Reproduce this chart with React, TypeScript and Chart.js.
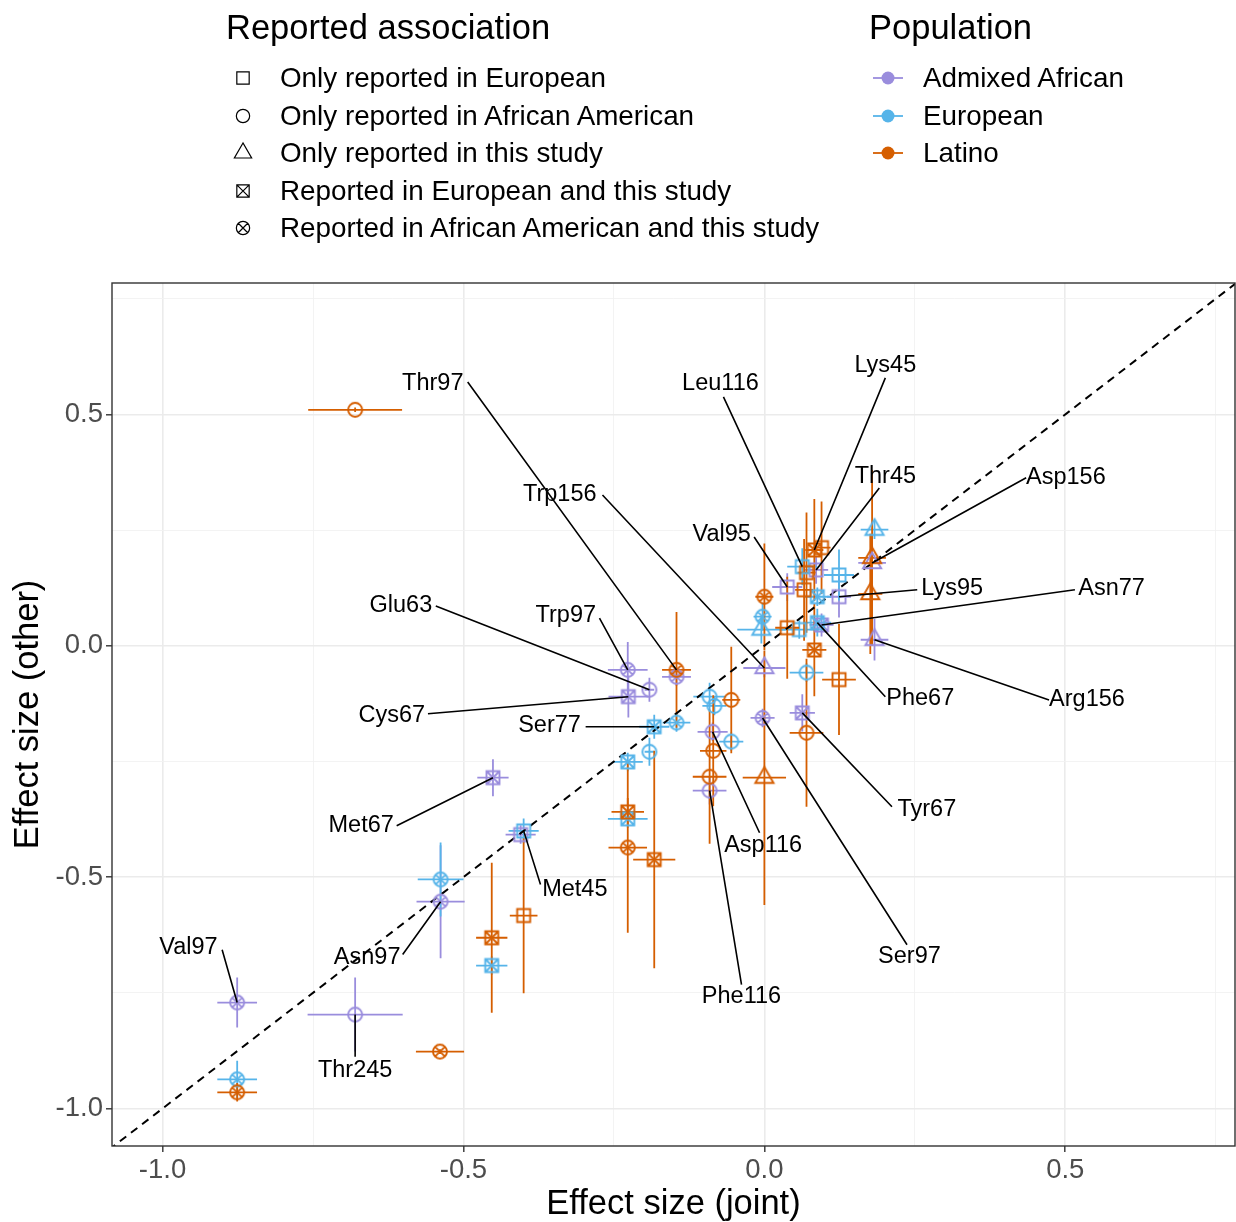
import { useEffect, useRef } from "react";
import { Chart, registerables } from "chart.js";

Chart.register(...registerables);

const FONT = '"Liberation Sans", Arial, Helvetica, sans-serif';

// ---- legend / categories ----
const populations = ["Admixed African", "European", "Latino"];
const populationColors = ["#9a8ddd", "#56b4e9", "#d55e00"];
const shapeKeys = ["sq", "ci", "tr", "sqx", "cix"];
const shapeLabels = [
  "Only reported in European",
  "Only reported in African American",
  "Only reported in this study",
  "Reported in European and this study",
  "Reported in African American and this study",
];

// ---- points (population index 0=Admixed African, 1=European, 2=Latino) ----
const pointPop = [
  2, 2, 0, 0, 0, 0, 1, 2, 1, 1, 1, 2, 1, 2, 0, 1, 0, 2, 1, 0, 2, 1, 0, 0, 2, 1, 2,
  1, 2, 0, 2, 0, 1, 0, 1, 1, 0, 2, 1, 2, 1, 2, 2, 1, 1, 0, 1, 0, 2, 2, 2, 2, 0,
  1, 1, 2, 0, 1, 2, 2, 0, 0, 2, 0, 2,
];
const pointShape = [
  "ci", "cix", "cix", "cix", "sqx", "ci", "sqx", "sqx", "cix", "sqx", "ci", "sqx", "sqx", "cix", "sqx", "sq", "sq", "sq", "cix", "cix", "sqx", "sqx", "cix", "ci", "cix", "cix", "cix",
  "tr", "tr", "tr", "tr", "tr", "sq", "sq", "sqx", "sqx", "sqx", "sq", "sq", "sqx", "ci", "sq", "cix", "cix", "tr", "tr", "sq", "sq", "sq", "sq", "sqx", "sq", "sq",
  "ci", "ci", "ci", "ci", "ci", "ci", "ci", "ci", "cix", "tr", "sqx", "ci",
];
const pointX = [
  -0.68, -0.146, -0.146, -0.227, -0.226, -0.191, -0.183, -0.183, -0.146, -0.227, -0.191, -0.227, -0.227, -0.227, -0.451, -0.4, -0.405, -0.4, -0.538, -0.538, -0.453, -0.453, -0.876, -0.68, -0.539, -0.876, -0.876,
  0.183, 0.179, 0.179, 0.176, 0.183, 0.124, 0.124, 0.088, 0.088, 0.095, 0.038, 0.058, 0.083, 0.07, 0.124, 0.0, -0.003, -0.005, 0.0, 0.063, 0.038, 0.07, 0.066, 0.083, 0.095, 0.086,
  -0.091, -0.083, -0.055, -0.086, -0.055, -0.085, -0.091, -0.091, -0.003, 0.0, 0.063, 0.07,
];
const pointY = [
  0.51, -0.052, -0.067, -0.052, -0.11, -0.095, -0.175, -0.462, -0.166, -0.251, -0.229, -0.359, -0.374, -0.436, -0.285, -0.4, -0.408, -0.583, -0.505, -0.553, -0.631, -0.691, -0.771, -0.797, -0.877, -0.937, -0.965,
  0.251, 0.19, 0.179, 0.112, 0.013, 0.153, 0.106, 0.106, 0.05, 0.045, 0.039, 0.035, -0.009, -0.058, -0.073, 0.106, 0.063, 0.035, -0.048, 0.171, 0.127, 0.158, 0.121, 0.207, 0.212, 0.164,
  -0.11, -0.13, -0.117, -0.186, -0.207, -0.227, -0.283, -0.313, -0.156, -0.285, -0.145, -0.188,
];
const pointXErr = [
  0.078, 0.024, 0.024, 0.033, 0.033, 0.008, 0.025, 0.035, 0.023, 0.025, 0.008, 0.027, 0.033, 0.032, 0.026, 0.025, 0.025, 0.023, 0.038, 0.04, 0.026, 0.026, 0.033, 0.079, 0.04, 0.033, 0.033,
  0.023, 0.023, 0.023, 0.02, 0.023, 0.025, 0.02, 0.023, 0.023, 0.02, 0.02, 0.033, 0.02, 0.028, 0.028, 0.015, 0.015, 0.04, 0.035, 0.025, 0.025, 0.015, 0.015, 0.015, 0.015, 0.02,
  0.027, 0.02, 0.015, 0.025, 0.02, 0.022, 0.028, 0.028, 0.02, 0.036, 0.021, 0.028,
];
const pointYErr = [
  0.005, 0.125, 0.02, 0.06, 0.045, 0.026, 0.026, 0.235, 0.02, 0.02, 0.03, 0.03, 0.02, 0.184, 0.04, 0.027, 0.02, 0.168, 0.08, 0.122, 0.162, 0.02, 0.054, 0.08, 0.005, 0.04, 0.02,
  0.02, 0.19, 0.04, 0.13, 0.045, 0.055, 0.045, 0.02, 0.03, 0.025, 0.11, 0.02, 0.1, 0.02, 0.12, 0.115, 0.03, 0.03, 0.02, 0.04, 0.03, 0.13, 0.11, 0.11, 0.1, 0.03,
  0.03, 0.02, 0.115, 0.02, 0.02, 0.12, 0.145, 0.03, 0.02, 0.275, 0.04, 0.16,
];

// ---- repelled text labels: text, target point, text anchor, segment start (data units) ----
const labelText = [
  "Thr97", "Leu116", "Lys45", "Thr45", "Asp156", "Val95", "Lys95", "Asn77", "Trp156", "Glu63", "Trp97", "Phe67",
  "Arg156", "Cys67", "Ser77", "Tyr67", "Met67", "Asp116", "Met45", "Val97", "Asn97", "Ser97", "Phe116", "Thr245",
];
const labelPoint = [1, 46, 50, 52, 29, 47, 33, 36, 45, 5, 3, 35, 31, 4, 6, 63, 14, 56, 15, 22, 19, 61, 60, 23];
const labelX = [
  -0.551, -0.073, 0.201, 0.201, 0.501, -0.071, 0.312, 0.577, -0.34, -0.604, -0.33, 0.259,
  0.536, -0.619, -0.357, 0.27, -0.67, -0.002, -0.315, -0.957, -0.66, 0.241, -0.038, -0.68,
];
const labelY = [
  0.566, 0.566, 0.605, 0.365, 0.363, 0.24, 0.123, 0.123, 0.326, 0.086, 0.065, -0.114,
  -0.117, -0.151, -0.173, -0.354, -0.389, -0.432, -0.527, -0.652, -0.674, -0.672, -0.758, -0.918,
];
const segStartX = [
  -0.493, -0.068, 0.201, 0.191, 0.435, -0.017, 0.254, 0.516, -0.269, -0.546, -0.274, 0.201,
  0.473, -0.559, -0.297, 0.212, -0.611, -0.008, -0.372, -0.901, -0.601, 0.237, -0.038, -0.68,
];
const segStartY = [
  0.57, 0.538, 0.579, 0.341, 0.363, 0.235, 0.121, 0.121, 0.326, 0.086, 0.06, -0.11,
  -0.117, -0.147, -0.175, -0.348, -0.389, -0.404, -0.516, -0.657, -0.667, -0.646, -0.732, -0.888,
];

// ---- axes ----
const xLimits = [-1.084, 0.782];
const yLimits = [-1.081, 0.784];
const tickValues = [-1, -0.75, -0.5, -0.25, 0, 0.25, 0.5, 0.75];
const identityLine = [-1.2, 0.9];

const isMajor = (v: number) => Math.abs(v * 2 - Math.round(v * 2)) < 1e-6;

function drawShape(g: CanvasRenderingContext2D, shape: string, cx: number, cy: number, s: number) {
  g.beginPath();
  if (shape === "sq" || shape === "sqx") {
    const h = 6.5 * s;
    g.rect(cx - h, cy - h, 2 * h, 2 * h);
    if (shape === "sqx") {
      g.moveTo(cx - h, cy - h); g.lineTo(cx + h, cy + h);
      g.moveTo(cx + h, cy - h); g.lineTo(cx - h, cy + h);
    }
  } else if (shape === "ci" || shape === "cix") {
    const r = 7 * s;
    g.arc(cx, cy, r, 0, Math.PI * 2);
    if (shape === "cix") {
      const d = r * Math.SQRT1_2;
      g.moveTo(cx - d, cy - d); g.lineTo(cx + d, cy + d);
      g.moveTo(cx + d, cy - d); g.lineTo(cx - d, cy + d);
    }
  } else {
    const R = 10.5 * s;
    g.moveTo(cx, cy - R);
    g.lineTo(cx - R * 0.866, cy + R * 0.5);
    g.lineTo(cx + R * 0.866, cy + R * 0.5);
    g.closePath();
  }
  g.stroke();
}

function makeSymbol(shape: string, color: string) {
  const c = document.createElement("canvas");
  c.width = 30; c.height = 30;
  const g = c.getContext("2d")!;
  g.strokeStyle = color;
  g.lineWidth = 1.9;
  drawShape(g, shape, 15, 15, 1);
  return c;
}

function LegendSymbol({ shape }: { shape: string }) {
  const ref = useRef<HTMLCanvasElement>(null);
  useEffect(() => {
    const g = ref.current!.getContext("2d")!;
    g.clearRect(0, 0, 24, 24);
    g.strokeStyle = "#000";
    g.lineWidth = 1.2;
    drawShape(g, shape, 12, 12, 0.95);
  }, [shape]);
  return <canvas ref={ref} width={24} height={24} style={{ position: "absolute", left: -12, top: -12 }} />;
}

const errorBarPlugin = {
  id: "errorBars",
  beforeDatasetsDraw(chart: any) {
    const { ctx, chartArea, scales } = chart;
    const xs = scales.x, ys = scales.y;
    ctx.save();
    ctx.beginPath();
    ctx.rect(chartArea.left, chartArea.top, chartArea.right - chartArea.left, chartArea.bottom - chartArea.top);
    ctx.clip();
    const metas = chart.getSortedVisibleDatasetMetas();
    for (let m = metas.length - 1; m >= 0; m--) {
      const ds = chart.data.datasets[metas[m].index];
      if (!ds.errorBars) continue;
      ctx.strokeStyle = ds.borderColor;
      ctx.lineWidth = 1.8;
      ctx.beginPath();
      for (const p of ds.data) {
        const px = xs.getPixelForValue(p.x), py = ys.getPixelForValue(p.y);
        ctx.moveTo(xs.getPixelForValue(p.x - p.xe), py);
        ctx.lineTo(xs.getPixelForValue(p.x + p.xe), py);
        ctx.moveTo(px, ys.getPixelForValue(p.y - p.ye));
        ctx.lineTo(px, ys.getPixelForValue(p.y + p.ye));
      }
      ctx.stroke();
    }
    ctx.restore();
  },
  afterDatasetsDraw(chart: any) {
    const { ctx, chartArea, scales } = chart;
    const xs = scales.x, ys = scales.y;
    ctx.save();
    ctx.strokeStyle = "#000";
    ctx.lineWidth = 1.6;
    ctx.beginPath();
    labelText.forEach((_, i) => {
      const k = labelPoint[i];
      ctx.moveTo(xs.getPixelForValue(segStartX[i]), ys.getPixelForValue(segStartY[i]));
      ctx.lineTo(xs.getPixelForValue(pointX[k]), ys.getPixelForValue(pointY[k]));
    });
    ctx.stroke();
    ctx.fillStyle = "#000";
    ctx.font = `23.5px ${FONT}`;
    ctx.textAlign = "center";
    ctx.textBaseline = "middle";
    labelText.forEach((t, i) => {
      ctx.fillText(t, xs.getPixelForValue(labelX[i]), ys.getPixelForValue(labelY[i]));
    });
    ctx.strokeStyle = "#333333";
    ctx.lineWidth = 1.4;
    ctx.strokeRect(chartArea.left, chartArea.top, chartArea.right - chartArea.left, chartArea.bottom - chartArea.top);
    ctx.restore();
  },
};

export default function App() {
  const canvasRef = useRef<HTMLCanvasElement>(null);

  useEffect(() => {
    const datasets: any[] = [];
    populations.forEach((pop, pi) => {
      shapeKeys.forEach((sk) => {
        const data: any[] = [];
        pointX.forEach((x, i) => {
          if (pointPop[i] === pi && pointShape[i] === sk) {
            data.push({ x, y: pointY[i], xe: pointXErr[i], ye: pointYErr[i] });
          }
        });
        if (!data.length) return;
        datasets.push({
          label: `${pop} ${sk}`,
          data,
          errorBars: true,
          borderColor: populationColors[pi],
          backgroundColor: populationColors[pi],
          pointStyle: makeSymbol(sk, populationColors[pi]),
          pointRadius: 5,
          pointHoverRadius: 5,
          order: 3 - pi,
        });
      });
    });
    datasets.push({
      label: "identity",
      data: identityLine.map((v) => ({ x: v, y: v })),
      showLine: true,
      borderColor: "#000",
      borderWidth: 2,
      borderDash: [8, 6],
      pointRadius: 0,
      order: 10,
    });

    const tickLabel = (v: number) => (isMajor(v) ? v.toFixed(1) : "");
    const gridCommon = {
      color: (c: any) => (c.tick && isMajor(c.tick.value) ? "#ebebeb" : "#f2f2f2"),
      lineWidth: (c: any) => (c.tick && isMajor(c.tick.value) ? 1.6 : 0.9),
      tickColor: (c: any) => (c.tick && isMajor(c.tick.value) ? "#333333" : "rgba(0,0,0,0)"),
      tickWidth: 1.4,
      tickLength: 6,
      drawTicks: true,
    };

    const chart = new Chart(canvasRef.current!, {
      type: "scatter",
      data: { datasets },
      options: {
        animation: false,
        responsive: false,
        events: [],
        layout: { autoPadding: false, padding: { top: 283, right: 1, left: 0, bottom: 0 } },
        plugins: { legend: { display: false }, tooltip: { enabled: false } },
        scales: {
          x: {
            type: "linear",
            min: xLimits[0],
            max: xLimits[1],
            afterBuildTicks: (s: any) => { s.ticks = tickValues.map((v) => ({ value: v })); },
            afterFit: (s: any) => { s.height = 76; },
            ticks: { callback: (v: any) => tickLabel(Number(v)), color: "#4d4d4d", font: { size: 27.5, family: FONT }, padding: 2, autoSkip: false, maxRotation: 0 },
            grid: gridCommon,
            border: { display: false },
            title: { display: true, text: "Effect size (joint)", color: "#000", font: { size: 34.5, family: FONT }, padding: { top: 0, bottom: -3 } },
          },
          y: {
            type: "linear",
            min: yLimits[0],
            max: yLimits[1],
            afterBuildTicks: (s: any) => { s.ticks = tickValues.map((v) => ({ value: v })); },
            afterFit: (s: any) => { s.width = 112; },
            ticks: { callback: (v: any) => tickLabel(Number(v)), color: "#4d4d4d", font: { size: 27.5, family: FONT }, padding: 3, autoSkip: false },
            grid: gridCommon,
            border: { display: false },
            title: { display: true, text: "Effect size (other)", color: "#000", font: { size: 34.5, family: FONT }, padding: { top: 8, bottom: 0 } },
          },
        },
      },
      plugins: [errorBarPlugin],
    } as any);
    return () => chart.destroy();
  }, []);

  const rowY = (i: number) => 78 + i * 37.5;

  return (
    <div style={{ position: "absolute", left: 0, top: 0, width: 1236, height: 1222, background: "#fff", fontFamily: FONT, color: "#000", overflow: "hidden" }}>
      <canvas ref={canvasRef} width={1236} height={1222} style={{ position: "absolute", left: 0, top: 0 }} />
      <div style={{ position: "absolute", left: 226, top: 27, transform: "translateY(-50%)", fontSize: 34.5, lineHeight: 1, whiteSpace: "nowrap" }}>Reported association</div>
      {shapeLabels.map((t, i) => (
        <div key={t}>
          <div style={{ position: "absolute", left: 243, top: rowY(i) }}>
            <LegendSymbol shape={shapeKeys[i]} />
          </div>
          <div style={{ position: "absolute", left: 280, top: rowY(i), transform: "translateY(-50%)", fontSize: 27.8, lineHeight: 1, whiteSpace: "nowrap" }}>{t}</div>
        </div>
      ))}
      <div style={{ position: "absolute", left: 869, top: 27, transform: "translateY(-50%)", fontSize: 34.5, lineHeight: 1, whiteSpace: "nowrap" }}>Population</div>
      {populations.map((p, i) => (
        <div key={p}>
          <svg width={36} height={24} style={{ position: "absolute", left: 870, top: rowY(i) - 12 }}>
            <line x1={3} y1={12} x2={33} y2={12} stroke={populationColors[i]} strokeWidth={1.8} />
            <circle cx={18} cy={12} r={6.5} fill={populationColors[i]} />
          </svg>
          <div style={{ position: "absolute", left: 923, top: rowY(i), transform: "translateY(-50%)", fontSize: 27.8, lineHeight: 1, whiteSpace: "nowrap" }}>{p}</div>
        </div>
      ))}
    </div>
  );
}
